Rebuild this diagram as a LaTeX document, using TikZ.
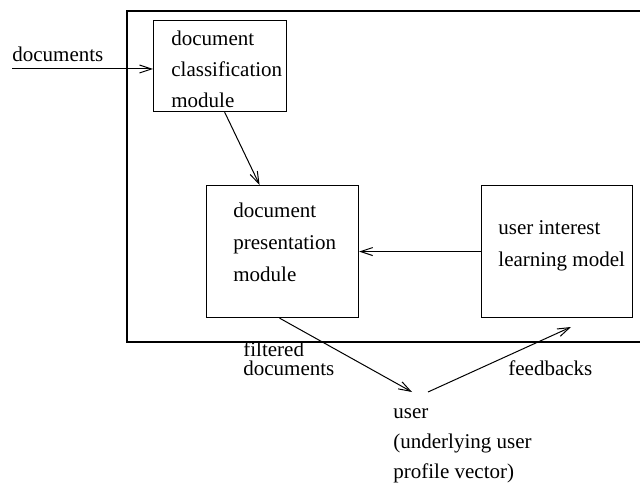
\documentclass[tikz,border=0pt]{standalone}
\usepackage{fontspec}
\setmainfont{Liberation Serif}
\usetikzlibrary{arrows.meta,calc}
\begin{document}
\begin{tikzpicture}[x=0.5pt,y=-0.5pt,
  box/.style={draw,line width=0.55pt,anchor=north west,inner sep=0pt},
  txt/.style={anchor=base west,inner sep=0pt,font=\rmfamily\fontsize{10.5}{12}\selectfont},
  arr/.style={line width=0.5pt,-{Straight Barb[length=6pt,width=4pt]}}]
\useasboundingbox (0,0) rectangle (640,485);
% outer frame (right side runs off the picture)
\draw[line width=0.6pt] (640,11) -- (127,11) -- (127,342) -- (640,342);
% boxes
\node[box,minimum width=66.5pt,minimum height=45.5pt] (b1) at (153,20) {};
\node[box,minimum width=76pt,minimum height=66pt] (b2) at (206,185) {};
\node[box,minimum width=75.5pt,minimum height=66pt] (b3) at (481,185) {};
% texts
\node[txt] (t1a) at (171,46) {document};
\node[txt] (t1b) at (171,77) {classification};
\node[txt] (t1c) at (171,108) {module};
\node[txt] (t2a) at (233,218) {document};
\node[txt] (t2b) at (233,250) {presentation};
\node[txt] (t2c) at (233,282) {module};
\node[txt] (t3a) at (498,235) {user interest};
\node[txt] (t3b) at (498,267) {learning model};
\node[txt] (ldoc) at (12,62) {documents};
\node[txt,align=left,font=\rmfamily\fontsize{10.5}{9.2}\selectfont] (lf) at (243,375) {filtered\\documents};
\node[txt] (lfb) at (508,375) {feedbacks};
\node[txt] (u1) at (393,418) {user};
\node[txt] (u2) at (393,448) {(underlying user};
\node[txt] (u3) at (393,478) {profile vector)};
% connectors
\coordinate (docin) at (12,69);
\draw[arr] (docin) -- (docin -| b1.west);
\draw[arr] ($(b1.south west)!0.534!(b1.south east)$) -- ($(b2.north west)!0.35!(b2.north east)$);
\draw[arr] (b3.west) -- (b2.east);
\coordinate (uin) at (412,392);
\coordinate (uout) at (428,392);
\coordinate (fbend) at (571,327);
\draw[arr] ($(b2.south west)!0.48!(b2.south east)$) -- (uin);
\draw[arr] (uout) -- (fbend);
\end{tikzpicture}
\end{document}
